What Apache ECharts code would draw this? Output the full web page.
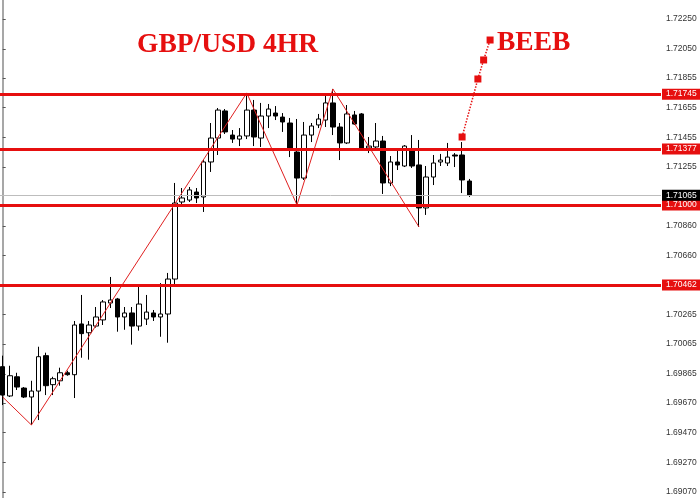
<!DOCTYPE html>
<html>
<head>
<meta charset="utf-8">
<script src="https://cdn.jsdelivr.net/npm/echarts@6/dist/echarts.min.js"></script>
<style>
  html, body { margin: 0; padding: 0; background: #fff; }
  #chart { width: 700px; height: 498px; }
</style>
</head>
<body>
<div id="chart"></div>
<script>
// ---- data (GBP/USD, 4H candles) ----
var opens  = [1.69913,1.69716,1.69845,1.69769,1.69709,1.69749,1.69987,1.69792,1.69818,1.69872,
              1.69859,1.70200,1.70141,1.70186,1.70227,1.70341,1.70368,1.70247,1.70274,1.70186,
              1.70233,1.70274,1.70247,1.70267,1.70502,1.71020,1.71033,1.71087,1.71054,1.71289,
              1.71450,1.71632,1.71470,1.71443,1.71464,1.71638,1.71450,1.71598,1.71618,1.71591,
              1.71551,1.71356,1.71181,1.71470,1.71538,1.71571,1.71686,1.71524,1.71417,1.71605,
              1.71612,1.71383,1.71390,1.71430,1.71148,1.71289,1.71262,1.71363,1.71269,1.70980,
              1.71188,1.71289,1.71282,1.71336,1.71336,1.71161];
var closes = [1.69722,1.69852,1.69776,1.69709,1.69749,1.69980,1.69785,1.69832,1.69872,1.69859,
              1.70193,1.70135,1.70193,1.70247,1.70348,1.70361,1.70247,1.70274,1.70186,1.70334,
              1.70280,1.70247,1.70267,1.70502,1.71013,1.71047,1.71101,1.71047,1.71289,1.71450,
              1.71638,1.71491,1.71443,1.71464,1.71638,1.71457,1.71598,1.71645,1.71598,1.71558,
              1.71383,1.71181,1.71470,1.71531,1.71578,1.71686,1.71524,1.71417,1.71612,1.71544,
              1.71383,1.71396,1.71430,1.71148,1.71289,1.71269,1.71396,1.71262,1.70980,1.71188,
              1.71282,1.71302,1.71322,1.71329,1.71168,1.71065];
var lows   = [1.69655,1.69709,1.69756,1.69702,1.69521,1.69554,1.69722,1.69722,1.69785,1.69852,
              1.69702,1.69973,1.69960,1.70175,1.70193,1.70307,1.70148,1.70161,1.70061,1.70155,
              1.70193,1.70220,1.70114,1.70074,1.70462,1.70993,1.71020,1.71013,1.70953,1.71222,
              1.71336,1.71477,1.71417,1.71396,1.71443,1.71396,1.71390,1.71517,1.71571,1.71491,
              1.71322,1.71000,1.71168,1.71423,1.71517,1.71524,1.71470,1.71302,1.71410,1.71538,
              1.71370,1.71349,1.71383,1.71074,1.71127,1.71235,1.71255,1.71249,1.70852,1.70933,
              1.71134,1.71262,1.71262,1.71255,1.71080,1.71054];
var highs  = [1.69987,1.69919,1.69872,1.69776,1.69818,1.70047,1.70007,1.69845,1.69906,1.69886,
              1.70220,1.70395,1.70220,1.70314,1.70361,1.70516,1.70375,1.70314,1.70314,1.70462,
              1.70395,1.70294,1.70475,1.70543,1.71148,1.71114,1.71121,1.71114,1.71302,1.71551,
              1.71652,1.71645,1.71504,1.71517,1.71753,1.71706,1.71686,1.71679,1.71665,1.71618,
              1.71585,1.71578,1.71558,1.71551,1.71612,1.71739,1.71780,1.71551,1.71672,1.71632,
              1.71618,1.71457,1.71551,1.71464,1.71329,1.71376,1.71403,1.71470,1.71437,1.71262,
              1.71336,1.71343,1.71417,1.71349,1.71423,1.71175];

// zigzag swing points: candle index and price
var zigzagIndex = [0, 4, 34, 41, 46, 58];
var zigzagPrice = [1.69709, 1.69521, 1.71753, 1.71000, 1.71780, 1.70852];

// projected "BEEB" path (bar position, price)
var projIndex = [64.0, 66.2, 67.0, 67.9];
var projPrice = [1.71457, 1.71847, 1.71975, 1.72109];

// horizontal levels and current price
var levels = [1.71745, 1.71377, 1.71000, 1.70462];
var currentPrice = 1.71065;

// price scale tick labels
var tickValues = [1.72250, 1.72050, 1.71855, 1.71655, 1.71455, 1.71255, 1.70860, 1.70660,
                  1.70265, 1.70065, 1.69865, 1.69670, 1.69470, 1.69270, 1.69070];

var titleText = 'GBP/USD 4HR';
var projText = 'BEEB';

// ---- build ----
var RED = '#e60f0f';
var yMin = 1.69030, yMax = 1.72378;

var candles = opens.map(function (o, i) { return [i, o, closes[i], lows[i], highs[i]]; });
var zigzag = zigzagIndex.map(function (x, i) { return [x, zigzagPrice[i]]; });
var proj = projIndex.map(function (x, i) { return [x, projPrice[i]]; });

var chart = echarts.init(document.getElementById('chart'), null, { renderer: 'canvas' });

function labelAxis(values, bg) {
  return {
    type: 'value', position: 'right', min: yMin, max: yMax,
    axisLine: { show: false }, axisTick: { show: false }, splitLine: { show: false },
    axisLabel: {
      customValues: values,
      formatter: function (v) { return v.toFixed(5); },
      margin: 1, color: '#fff', backgroundColor: bg,
      fontFamily: 'Liberation Sans', fontSize: 8.5, lineHeight: 9,
      padding: [1, 4, 1, 4]
    }
  };
}

var titleFont = { color: RED, fontFamily: 'Liberation Serif', fontWeight: 'bold', fontSize: 27.5 };

chart.setOption({
  animation: false,
  backgroundColor: '#fff',
  title: [
    { text: titleText, left: 137, top: 31, padding: 0, textStyle: titleFont },
    { text: projText, left: 497, top: 29, padding: 0, textStyle: titleFont }
  ],
  grid: { left: 0, right: 39, top: 0, bottom: 0, outerBoundsMode: 'none', containLabel: false },
  xAxis: {
    type: 'value', min: -0.376, max: 91.71, show: false,
    splitLine: { show: false }
  },
  yAxis: [
    {
      type: 'value', position: 'right', min: yMin, max: yMax,
      splitLine: { show: false },
      axisLine: { show: true, lineStyle: { color: '#8a8a8a', width: 1.5 } },
      axisTick: { show: true, customValues: tickValues, length: 3, lineStyle: { color: '#555' } },
      axisLabel: {
        customValues: tickValues,
        formatter: function (v) { return v.toFixed(5); },
        margin: 5, color: '#333', fontFamily: 'Liberation Sans', fontSize: 8.5
      }
    },
    labelAxis(levels, RED),
    labelAxis([currentPrice], '#000')
  ],
  series: [
    {
      type: 'candlestick',
      data: candles,
      barWidth: 5,
      itemStyle: {
        color: '#fff', color0: '#000',
        borderColor: '#000', borderColor0: '#000', borderWidth: 1
      },
      markLine: {
        silent: true, symbol: ['none', 'none'], animation: false,
        precision: 5,
        label: { show: false },
        data: [
          { yAxis: currentPrice, lineStyle: { color: '#bdbdbd', width: 1, type: 'solid' } }
        ].concat(levels.map(function (v) {
          return { yAxis: v, lineStyle: { color: RED, width: 3, type: 'solid' } };
        }))
      },
      z: 2
    },
    {
      type: 'line', data: zigzag, symbol: 'none',
      lineStyle: { color: '#e02020', width: 1 }, z: 3
    },
    {
      type: 'line', data: proj, symbol: 'rect', symbolSize: 7,
      itemStyle: { color: RED },
      lineStyle: { color: RED, width: 1.5, type: 'dotted' }, z: 4
    }
  ]
});
</script>
</body>
</html>
